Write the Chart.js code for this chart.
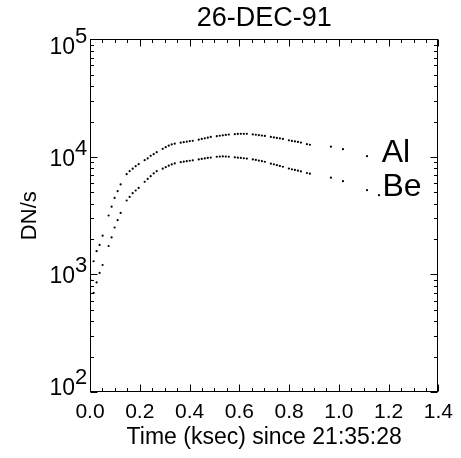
<!DOCTYPE html>
<html>
<head>
<meta charset="utf-8">
<script src="https://cdn.jsdelivr.net/npm/chart.js@4"></script>
<style>
html, body { margin: 0; padding: 0; background: #fff; }
#box { width: 461px; height: 458px; }
</style>
</head>
<body>
<div id="box"><canvas id="grafico"></canvas></div>
<script>

/* DADOS */

const tempo = [
    0.0024, 0.0145, 0.0265, 0.0386, 0.0507,
    0.0748, 0.0869, 0.0990, 0.1111, 0.1231,
    0.1473, 0.1593, 0.1714, 0.1835, 0.1956,
    0.2197, 0.2318, 0.2439, 0.2559, 0.2680,
    0.2922, 0.3042, 0.3163, 0.3284, 0.3405,
    0.3646, 0.3767, 0.3888, 0.4008, 0.4129,
    0.4370, 0.4491, 0.4612, 0.4733, 0.4853,
    0.5095, 0.5215, 0.5336, 0.5457, 0.5578,
    0.5819, 0.5940, 0.6061, 0.6181, 0.6302,
    0.6543, 0.6664, 0.6785, 0.6906, 0.7026,
    0.7268, 0.7389, 0.7509, 0.7630, 0.7751,
    0.7992, 0.8113, 0.8234, 0.8354, 0.8475,
    0.8717, 0.8837,
    0.9682, 1.0165, 1.1131, 1.1614
]

const al = [
    893, 1296, 1577, 1784, 2137,
    3175, 3773, 4482, 5112, 5831,
    7134, 7567, 7945, 8345, 8679,
    9386, 9705, 10212, 10558, 10980,
    11716, 12114, 12473, 12772, 12974,
    13230, 13359, 13490, 13622, 13703,
    14029, 14224, 14392, 14588, 14791,
    15025, 15143, 15262, 15382, 15503,
    15625, 15686, 15719, 15719, 15719,
    15535, 15443, 15322, 15203, 15084,
    14791, 14646, 14505, 14362, 14224,
    13836, 13675, 13543, 13410, 13254,
    12846, 12696,
    12232, 11646, 10153, null
]

const be = [
    null, 696, 855, 1031, 1204,
    1746, 2067, 2509, 2895, 3341,
    4259, 4572, 4915, 5183, 5453,
    6135, 6506, 6860, 7234, 7567,
    7945, 8183, 8427, 8629, 8799,
    9026, 9114, 9205, 9277, 9350,
    9517, 9609, 9705, 9799, 9876,
    10032, 10071, 10092, 10071, 10032,
    9915, 9858, 9799, 9743, 9685,
    9517, 9424, 9313, 9205, 9097,
    8764, 8644, 8510, 8378, 8248,
    7962, 7852, 7746, 7640, 7522,
    7303, 7205,
    6661, 6219, 5213, 4727
]

const decadas = [2, 3, 4, 5]

const rotulos = [
    { texto: "Al", t: 1.172, v: 9000 },
    { texto: "Be", t: 1.175, v: 4650 }
]

const fonte = "'Liberation Sans', Arial, sans-serif"

function pontos(serie){
    let lista = []
    serie.forEach((v, i) => {
        if(v !== null) lista.push({ x: tempo[i], y: v })
    })
    return lista
}


/* MOLDURA, TICKS PARA DENTRO, ROTULOS 10^n */

const moldura = {
    id: "moldura",
    afterDraw(chart){
        const ctx = chart.ctx
        const a = chart.chartArea
        const sx = chart.scales.x
        const sy = chart.scales.y
        const l = Math.round(a.left) + 0.5
        const r = Math.round(a.right) - 0.5
        const t = Math.round(a.top) + 0.5
        const b = Math.round(a.bottom) - 0.5

        ctx.save()
        ctx.strokeStyle = "#000"
        ctx.lineWidth = 1
        ctx.strokeRect(l, t, r - l, b - t)

        ctx.beginPath()
        for(let k = 0; k <= 28; k++){
            const px = Math.round(sx.getPixelForValue(k * 0.05)) + 0.5
            const len = k % 4 === 0 ? 7 : 3.5
            ctx.moveTo(px, b); ctx.lineTo(px, b - len)
            ctx.moveTo(px, t); ctx.lineTo(px, t + len)
        }
        for(let e = 2; e <= 4; e++){
            for(let m = 1; m <= 9; m++){
                const py = Math.round(sy.getPixelForValue(m * Math.pow(10, e))) + 0.5
                const len = m === 1 ? 7 : 3.5
                ctx.moveTo(l, py); ctx.lineTo(l + len, py)
                ctx.moveTo(r, py); ctx.lineTo(r - len, py)
            }
        }
        ctx.stroke()

        // rotulos do eixo y, os extremos ficam dentro da altura do eixo
        ctx.fillStyle = "#000"
        ctx.textBaseline = "alphabetic"
        decadas.forEach(e => {
            const py = sy.getPixelForValue(Math.pow(10, e))
            let base = py + 9
            base = Math.max(base, a.top + 15)
            base = Math.min(base, a.bottom + 3)
            ctx.font = "23px " + fonte
            ctx.textAlign = "right"
            ctx.fillText("10", 75, base)
            ctx.font = "22px " + fonte
            ctx.textAlign = "left"
            ctx.fillText(String(e), 75, base - 11)
        })

        ctx.font = "32px " + fonte
        ctx.textAlign = "left"
        rotulos.forEach(o => {
            ctx.fillText(o.texto, sx.getPixelForValue(o.t), sy.getPixelForValue(o.v))
        })
        ctx.restore()
    }
}


/* GRAFICO */

new Chart(document.getElementById("grafico"), {

    type: "scatter",

    data: {
        datasets: [
            {
                label: "Al",
                data: pontos(al),
                backgroundColor: "#000",
                borderWidth: 0,
                pointRadius: 1.1
            },
            {
                label: "Be",
                data: pontos(be),
                backgroundColor: "#000",
                borderWidth: 0,
                pointRadius: 1.1
            }
        ]
    },

    options: {
        responsive: true,
        maintainAspectRatio: false,
        animation: false,
        devicePixelRatio: 1,
        layout: { padding: { left: 0, right: 18, top: 0, bottom: 0 } },
        plugins: {
            legend: { display: false },
            tooltip: { enabled: false },
            title: {
                display: true,
                text: "26-DEC-91",
                color: "#000",
                fullSize: false,
                font: { family: fonte, size: 27, weight: "normal" },
                padding: { top: 2, bottom: 5 }
            }
        },
        scales: {
            x: {
                type: "linear",
                min: 0,
                max: 1.4,
                grid: { display: false, drawTicks: false },
                border: { display: false },
                ticks: {
                    stepSize: 0.2,
                    autoSkip: false,
                    maxRotation: 0,
                    padding: 8,
                    color: "#000",
                    font: { family: fonte, size: 21 },
                    callback: v => v.toFixed(1)
                },
                title: {
                    display: true,
                    text: "Time (ksec) since 21:35:28",
                    color: "#000",
                    font: { family: fonte, size: 23 },
                    padding: { top: 0, bottom: 7 }
                },
                afterFit: s => { s.height = 66 }
            },
            y: {
                type: "logarithmic",
                min: 100,
                max: 100000,
                grid: { display: false, drawTicks: false },
                border: { display: false },
                ticks: { display: false },
                title: {
                    display: true,
                    text: "DN/s",
                    color: "#000",
                    font: { family: fonte, size: 22 },
                    padding: { top: 17, bottom: 0 }
                },
                afterFit: s => { s.width = 90 }
            }
        }
    },

    plugins: [moldura]

})

</script>
</body>
</html>
